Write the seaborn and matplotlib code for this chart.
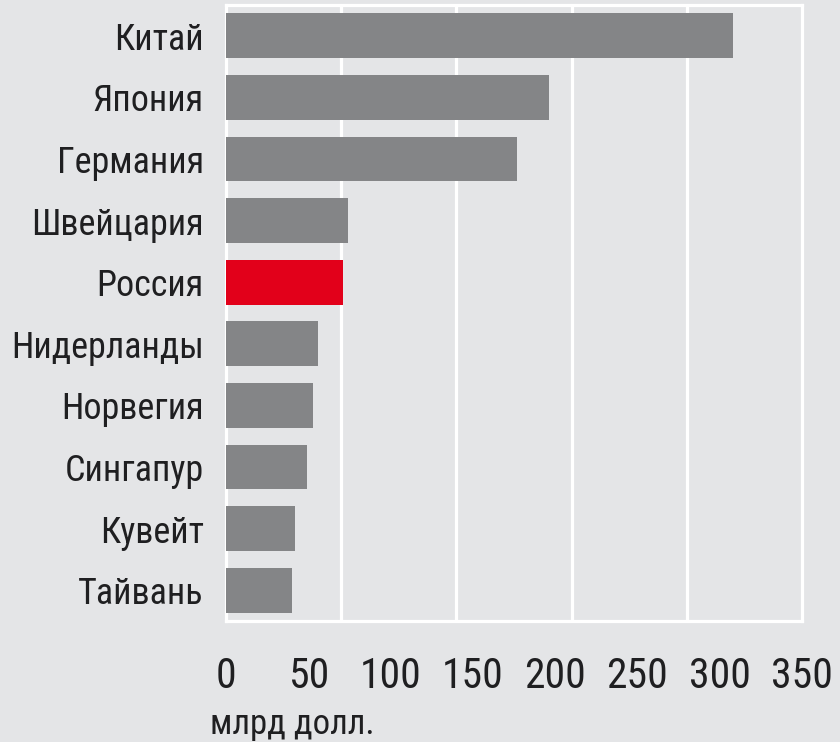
import matplotlib
matplotlib.use("Agg")
import matplotlib.pyplot as plt
from matplotlib import font_manager as fm
import seaborn as sns
import pandas as pd

countries = ["Китай", "Япония", "Германия", "Швейцария", "Россия",
             "Нидерланды", "Норвегия", "Сингапур", "Кувейт", "Тайвань"]
values = [308, 196, 177, 74, 71, 56, 53, 49, 42, 40]
bar_colors = ["#848587", "#848587", "#848587", "#848587", "#e2001a",
              "#848587", "#848587", "#848587", "#848587", "#848587"]
x_ticks = [0, 50, 100, 150, 200, 250, 300, 350]
grid_lines = [70, 140, 210, 280]
x_label = "млрд долл."

bg = "#e4e5e7"
txt_color = "#1f1f21"
sns.set_theme(style="white")

available = set(f.name for f in fm.fontManager.ttflist)
candidates = ["Roboto Condensed", "PT Sans Narrow", "Fira Sans Condensed",
              "Ubuntu Condensed", "IBM Plex Sans Condensed", "Open Sans Condensed",
              "Liberation Sans Narrow", "DejaVu Sans Condensed"]
chosen = [c for c in candidates if c in available][:1]
plt.rcParams['font.family'] = chosen + ['DejaVu Sans']
plt.rcParams['font.weight'] = 'normal'

df = pd.DataFrame({"country": countries, "value": values})

fig = plt.figure(figsize=(8.4, 7.42), dpi=100, facecolor=bg)
ax = fig.add_axes([226 / 840, 1 - 621 / 742, 576 / 840, 616 / 742])
ax.set_facecolor(bg)

sns.barplot(data=df, x="value", y="country", hue="country",
            palette=dict(zip(countries, bar_colors)), legend=False,
            width=0.73, orient="h", ax=ax, saturation=1, zorder=3, linewidth=0)

ax.set_xlim(0, 350)
ax.set_ylim(9.5, -0.5)
ax.set_xticks(x_ticks)
ax.set_xticklabels([str(t) for t in x_ticks])
ax.set_xticks(grid_lines, minor=True)
ax.xaxis.grid(True, which="minor", color="white", linewidth=2.3, zorder=0)
ax.xaxis.grid(False, which="major")
ax.set_axisbelow(True)

ax.tick_params(axis="x", which="major", length=0, pad=25, labelsize=30, labelcolor=txt_color)
ax.tick_params(axis="x", which="minor", length=9, width=2.3, color="white", direction="out")
ax.tick_params(axis="y", length=0, pad=16, labelsize=26, labelcolor=txt_color)

for s in ax.spines.values():
    s.set_color("white")
    s.set_linewidth(2.3)
    s.set_visible(True)

ax.set_xlabel("")
ax.set_ylabel("")

fig.text(210 / 840, 1 - 734 / 742, x_label, fontsize=25, color=txt_color,
         ha="left", va="baseline")

fig.savefig("out.png", dpi=100, facecolor=bg)
